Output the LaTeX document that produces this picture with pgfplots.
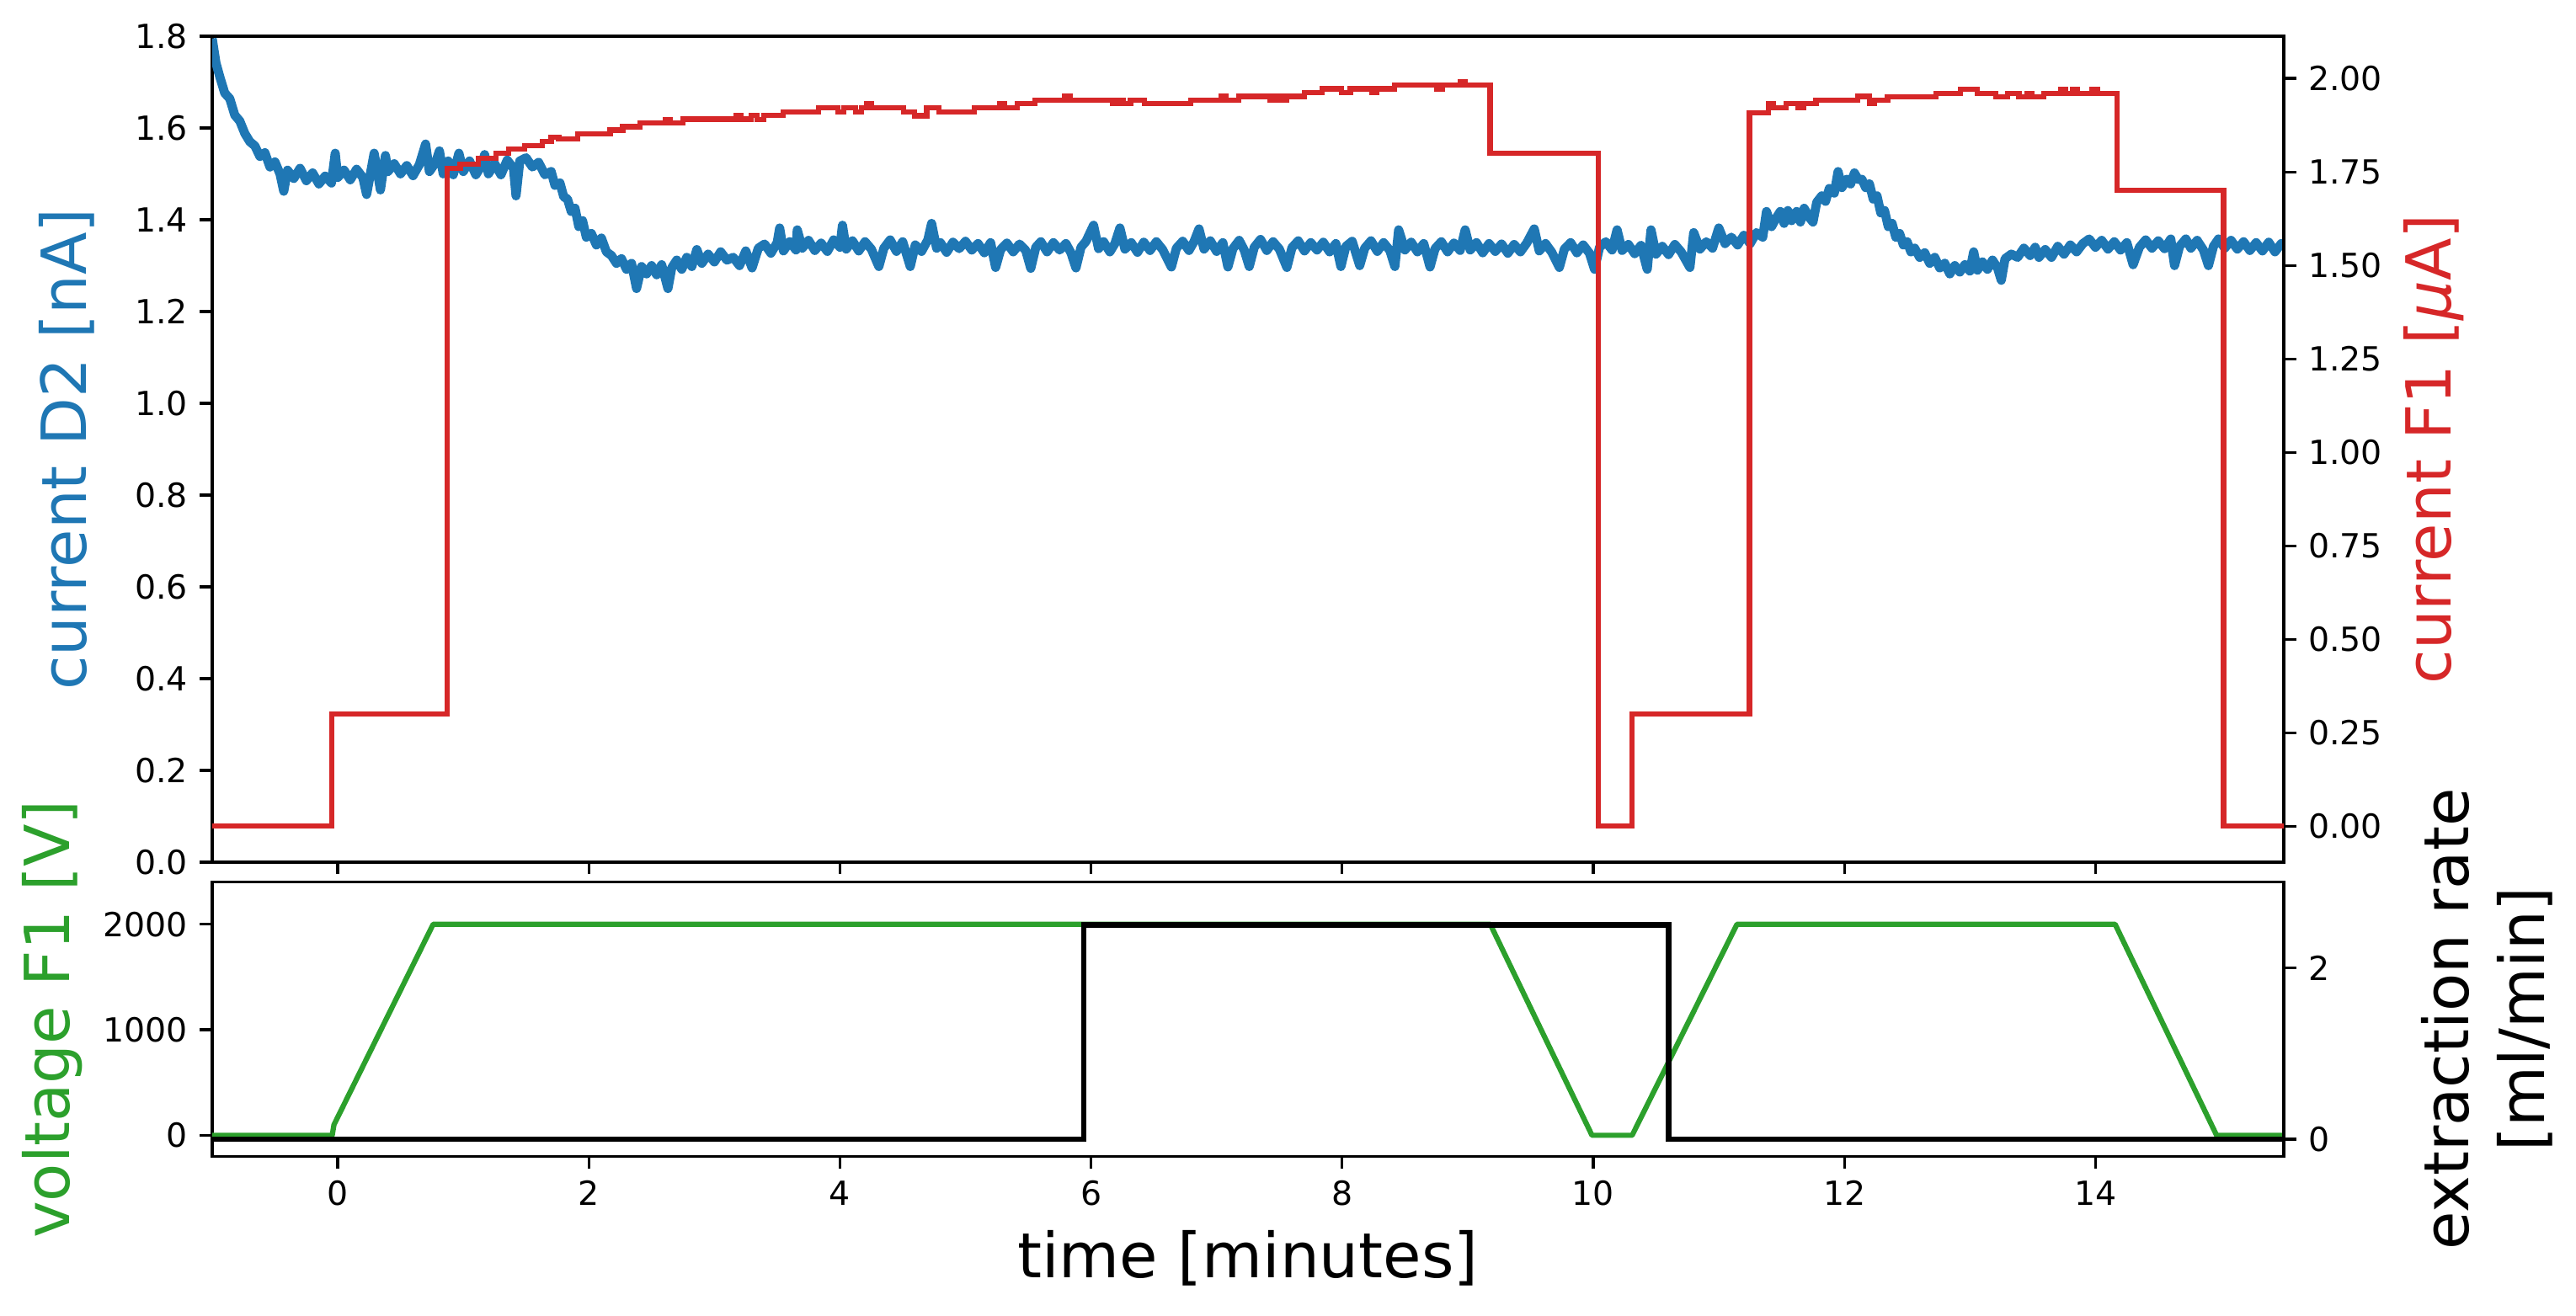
\documentclass[border=0pt]{standalone}
\usepackage{fontspec}
\setmainfont{DejaVu Sans}
\usepackage{pgfplots}
\pgfplotsset{compat=1.18}

\definecolor{tabblue}{HTML}{1F77B4}
\definecolor{tabred}{HTML}{D62728}
\definecolor{tabgreen}{HTML}{2CA02C}

\pgfplotsset{
  base/.style={
    scale only axis, width=592.6pt,
    xmin=-1, xmax=15.5,
    xtick={0,2,4,6,8,10,12,14},
    axis line style={line width=0.8pt},
    tick style={black, line width=0.8pt},
    major tick length=3.5pt,
    tick align=outside,
    tick label style={font=\fontsize{9.5}{11}\selectfont},
    /pgf/number format/assume math mode=true,
    label style={font=\fontsize{17.8}{21.6}\selectfont},
  },
}

\begin{document}
\begin{tikzpicture}

% top panel, left axis: current D2
\begin{axis}[base, at={(0,84.2pt)}, anchor=south west, height=236.3pt,
  ymin=0, ymax=1.8,
  ytick={0,0.2,0.4,0.6,0.8,1.0,1.2,1.4,1.6,1.8},
  yticklabel style={/pgf/number format/.cd, fixed, fixed zerofill, precision=1},
  xtick pos=bottom, ytick pos=left, xticklabels={},
  ylabel={current D2 [nA]},
  ylabel style={at={(axis description cs:-0.070,0.5)}, anchor=center, text=tabblue},
]
\addplot[tabblue, line width=2.6pt, line join=round] coordinates {
(-1.00,1.795)(-0.97,1.742)(-0.94,1.712)(-0.90,1.676)(-0.86,1.664)(-0.82,1.628)(-0.78,1.615)(-0.74,1.588)
(-0.70,1.570)(-0.66,1.561)(-0.62,1.538)(-0.58,1.546)(-0.54,1.515)(-0.50,1.526)(-0.46,1.500)(-0.43,1.462)
(-0.40,1.508)(-0.35,1.490)(-0.30,1.512)(-0.25,1.485)(-0.20,1.502)(-0.15,1.478)(-0.10,1.495)(-0.05,1.480)
(-0.02,1.545)(0.00,1.492)(0.05,1.508)(0.10,1.487)(0.15,1.510)(0.20,1.492)(0.23,1.455)(0.26,1.500)
(0.29,1.545)(0.32,1.498)(0.34,1.465)(0.38,1.540)(0.40,1.505)(0.45,1.522)(0.50,1.500)(0.55,1.518)
(0.60,1.496)(0.65,1.520)(0.70,1.565)(0.73,1.505)(0.78,1.525)(0.81,1.550)(0.84,1.500)(0.88,1.528)
(0.92,1.498)(0.965,1.545)(1.00,1.505)(1.05,1.528)(1.10,1.498)(1.15,1.520)(1.17,1.542)(1.20,1.500)
(1.25,1.522)(1.30,1.498)(1.35,1.530)(1.40,1.512)(1.42,1.452)(1.45,1.528)(1.50,1.535)(1.55,1.515)
(1.60,1.525)(1.65,1.498)(1.70,1.505)(1.73,1.475)(1.77,1.480)(1.80,1.450)(1.83,1.445)(1.86,1.418)
(1.89,1.425)(1.92,1.385)(1.95,1.398)(1.98,1.362)(2.02,1.370)(2.06,1.345)(2.10,1.360)(2.14,1.330)
(2.18,1.322)(2.22,1.305)(2.26,1.315)(2.30,1.292)(2.34,1.305)(2.38,1.250)(2.42,1.298)(2.46,1.282)
(2.50,1.300)(2.54,1.280)(2.58,1.302)(2.63,1.250)(2.66,1.295)(2.70,1.312)(2.74,1.292)(2.78,1.318)
(2.82,1.298)(2.86,1.335)(2.90,1.305)(2.95,1.325)(3.00,1.308)(3.05,1.330)(3.10,1.312)(3.15,1.318)
(3.20,1.300)(3.25,1.332)(3.30,1.295)(3.35,1.338)
(3.40,1.347)(3.45,1.327)(3.50,1.350)(3.52,1.382)(3.55,1.332)(3.60,1.352)(3.65,1.334)(3.66,1.378)
(3.70,1.338)(3.75,1.355)(3.80,1.333)(3.85,1.349)(3.90,1.331)(3.95,1.356)(4.00,1.340)(4.02,1.388)
(4.05,1.336)(4.10,1.354)(4.15,1.332)(4.20,1.352)(4.25,1.336)(4.31,1.298)(4.35,1.338)(4.40,1.356)
(4.45,1.331)(4.50,1.352)(4.56,1.298)(4.60,1.345)(4.65,1.331)(4.70,1.356)(4.73,1.392)(4.77,1.338)
(4.80,1.350)(4.85,1.329)(4.90,1.351)(4.95,1.337)(5.00,1.353)(5.05,1.334)(5.10,1.348)(5.15,1.328)
(5.20,1.350)(5.24,1.296)(5.28,1.335)(5.33,1.349)(5.38,1.330)(5.43,1.347)(5.48,1.333)(5.52,1.294)
(5.56,1.340)(5.60,1.352)(5.65,1.330)(5.70,1.350)(5.75,1.334)(5.80,1.348)(5.84,1.328)(5.88,1.295)
(5.92,1.340)(5.96,1.353)(6.02,1.388)(6.06,1.337)(6.10,1.352)(6.15,1.330)(6.19,1.348)(6.23,1.382)
(6.27,1.336)(6.32,1.350)(6.37,1.329)(6.42,1.351)(6.47,1.333)(6.52,1.352)(6.57,1.335)(6.64,1.297)
(6.68,1.338)(6.73,1.353)(6.78,1.333)(6.82,1.352)(6.86,1.380)(6.90,1.336)(6.95,1.354)(7.00,1.331)
(7.05,1.350)(7.09,1.297)(7.13,1.337)(7.18,1.355)(7.22,1.334)(7.26,1.298)(7.30,1.340)(7.35,1.357)
(7.40,1.333)(7.45,1.352)(7.50,1.336)(7.56,1.296)(7.60,1.339)(7.65,1.354)(7.70,1.332)(7.75,1.350)
(7.80,1.334)(7.85,1.351)(7.90,1.330)(7.95,1.348)(7.99,1.298)(8.03,1.342)(8.08,1.353)(8.14,1.300)
(8.18,1.338)(8.23,1.354)(8.28,1.331)(8.33,1.350)(8.38,1.333)(8.42,1.298)(8.45,1.378)(8.50,1.334)
(8.55,1.351)(8.60,1.330)(8.65,1.348)(8.70,1.297)(8.74,1.337)(8.79,1.352)(8.84,1.330)(8.89,1.349)
(8.94,1.333)(8.98,1.378)(9.02,1.334)(9.07,1.350)(9.12,1.328)(9.17,1.348)(9.22,1.331)(9.27,1.347)
(9.32,1.327)(9.37,1.346)(9.42,1.330)(9.47,1.349)(9.53,1.380)(9.57,1.332)(9.62,1.348)(9.67,1.329)
(9.73,1.296)(9.77,1.336)(9.82,1.350)(9.87,1.328)(9.92,1.345)(9.97,1.327)(10.01,1.292)(10.05,1.340)
(10.10,1.352)(10.15,1.334)(10.19,1.378)(10.23,1.333)(10.28,1.346)(10.33,1.326)(10.38,1.344)(10.43,1.292)
(10.46,1.378)(10.50,1.325)(10.55,1.342)(10.60,1.324)(10.65,1.346)(10.70,1.330)(10.77,1.296)(10.80,1.372)
(10.85,1.336)(10.90,1.352)(10.95,1.338)(11.00,1.382)(11.05,1.348)(11.10,1.362)(11.15,1.345)(11.20,1.366)
(11.25,1.348)(11.30,1.372)(11.35,1.362)(11.38,1.418)(11.42,1.385)(11.46,1.405)(11.49,1.418)(11.52,1.392)
(11.55,1.420)(11.58,1.398)(11.62,1.418)(11.65,1.395)(11.68,1.425)(11.72,1.405)(11.75,1.395)(11.78,1.438)
(11.82,1.452)(11.85,1.440)(11.88,1.468)(11.92,1.458)(11.95,1.505)(11.98,1.470)(12.02,1.488)(12.05,1.478)
(12.08,1.502)(12.11,1.488)(12.14,1.488)(12.17,1.470)(12.20,1.478)(12.23,1.445)(12.26,1.452)(12.29,1.415)
(12.32,1.420)(12.35,1.385)(12.38,1.392)(12.41,1.362)(12.44,1.370)(12.47,1.345)(12.50,1.352)(12.53,1.330)
(12.56,1.338)(12.60,1.318)(12.64,1.328)(12.68,1.305)(12.72,1.318)(12.76,1.295)(12.80,1.305)(12.84,1.282)
(12.88,1.300)(12.92,1.286)(12.96,1.302)(13.00,1.288)(13.03,1.330)(13.06,1.290)(13.10,1.308)(13.14,1.292)
(13.18,1.312)(13.22,1.295)(13.25,1.268)(13.28,1.315)(13.33,1.325)(13.38,1.318)(13.43,1.338)(13.48,1.322)
(13.52,1.340)(13.55,1.318)(13.60,1.335)(13.65,1.318)(13.70,1.342)(13.75,1.325)(13.80,1.345)(13.85,1.330)
(13.90,1.348)(13.95,1.358)(14.00,1.340)(14.05,1.355)(14.10,1.336)(14.15,1.352)(14.20,1.334)(14.25,1.350)
(14.30,1.302)(14.35,1.340)(14.40,1.356)(14.45,1.338)(14.50,1.354)(14.55,1.337)(14.60,1.358)(14.63,1.300)
(14.67,1.342)(14.72,1.358)(14.76,1.338)(14.81,1.355)(14.86,1.334)(14.90,1.300)(14.94,1.342)(14.98,1.358)
(15.03,1.338)(15.08,1.355)(15.13,1.336)(15.18,1.352)(15.23,1.333)(15.28,1.350)(15.33,1.332)(15.38,1.351)
(15.43,1.330)(15.48,1.348)(15.50,1.340)
};
\end{axis}

% top panel, right axis: current F1
\begin{axis}[base, at={(0,84.2pt)}, anchor=south west, height=236.3pt,
  axis x line=none, axis y line*=right,
  ymin=-0.096, ymax=2.113,
  ytick={0,0.25,0.5,0.75,1,1.25,1.5,1.75,2},
  yticklabel style={/pgf/number format/.cd, fixed, fixed zerofill, precision=2},
  ylabel={current F1 [{\itshape μ}A]},
  ylabel style={at={(axis description cs:1.0724,0.5)}, anchor=center, text=tabred},
]
\addplot[tabred, line width=1.5pt, const plot] coordinates {
(-1.0,0.0)(-0.046,0.30)(0.874,1.76)(0.975,1.771)(1.12,1.787)(1.26,1.80)(1.36,1.811)(1.49,1.820)
(1.63,1.832)(1.70,1.843)(1.76,1.838)(1.91,1.852)(2.17,1.862)(2.27,1.871)(2.41,1.881)(2.61,1.89)
(2.65,1.881)(2.75,1.891)(3.17,1.90)(3.21,1.891)(3.295,1.902)(3.338,1.890)(3.394,1.902)(3.549,1.911)
(3.831,1.922)(3.986,1.911)(4.029,1.922)(4.127,1.911)(4.17,1.922)(4.212,1.932)(4.254,1.922)(4.508,1.911)
(4.593,1.900)(4.692,1.922)(4.79,1.911)(5.072,1.922)(5.27,1.932)(5.312,1.922)(5.411,1.933)(5.552,1.942)
(5.792,1.952)(5.834,1.942)(6.173,1.932)(6.215,1.942)(6.257,1.932)(6.314,1.942)(6.426,1.932)(6.793,1.942)
(7.033,1.952)(7.075,1.942)(7.174,1.952)(7.428,1.942)(7.47,1.952)(7.513,1.942)(7.555,1.952)(7.698,1.962)
(7.839,1.972)(7.994,1.962)(8.065,1.972)(8.234,1.962)(8.276,1.972)(8.417,1.982)(8.756,1.972)(8.798,1.982)
(8.939,1.992)(8.982,1.982)(9.179,1.80)(10.04,0.0)(10.31,0.30)(11.245,1.908)(11.394,1.932)(11.436,1.922)
(11.535,1.932)(11.633,1.922)(11.676,1.932)(11.774,1.942)(12.106,1.952)(12.199,1.932)(12.238,1.942)(12.344,1.950)
(12.729,1.960)(12.927,1.971)(13.06,1.960)(13.206,1.950)(13.299,1.960)(13.391,1.950)(13.458,1.960)(13.497,1.950)
(13.59,1.960)(13.723,1.971)(13.762,1.960)(13.815,1.971)(13.855,1.960)(13.974,1.971)(14.014,1.960)(14.17,1.70)
(15.02,0.0)(15.5,0.0)
};
\end{axis}

% bottom panel, left axis: voltage F1
\begin{axis}[base, at={(0,0)}, anchor=south west, height=78.49pt,
  ymin=-200, ymax=2400, ytick={0,1000,2000},
  xtick pos=bottom, ytick pos=left,
  yticklabel style={/pgf/number format/1000 sep={}},
  xlabel={time [minutes]},
  xlabel style={at={(axis description cs:0.5,-0.371)}, anchor=center},
  ylabel={voltage F1 [V]},
  ylabel style={at={(axis description cs:-0.077,0.5)}, anchor=center, text=tabgreen},
]
\addplot[tabgreen, line width=1.5pt, line join=round] coordinates {
(-1.0,0)(-0.044,0)(-0.03,100)(0.76,2000)(9.18,2000)(9.99,0)(10.31,0)(11.145,2000)(14.157,2000)(14.965,0)(15.5,0)
};
\end{axis}

% bottom panel, right axis: extraction rate
\begin{axis}[base, at={(0,0)}, anchor=south west, height=78.49pt,
  axis x line=none, axis y line*=right,
  ymin=-0.2, ymax=3.0, ytick={0,2},
  ylabel={extraction rate\\\relax[ml/min]},
  ylabel style={at={(axis description cs:1.098,0.5)}, anchor=center, align=center},
]
\addplot[black, line width=1.5pt, const plot] coordinates {
(-1.0,0)(5.94,2.5)(10.60,0)(15.5,0)
};
\end{axis}

\pgfresetboundingbox
\useasboundingbox (-60.7pt,-45.65pt) rectangle (676.2pt,330.86pt);
\end{tikzpicture}
\end{document}
